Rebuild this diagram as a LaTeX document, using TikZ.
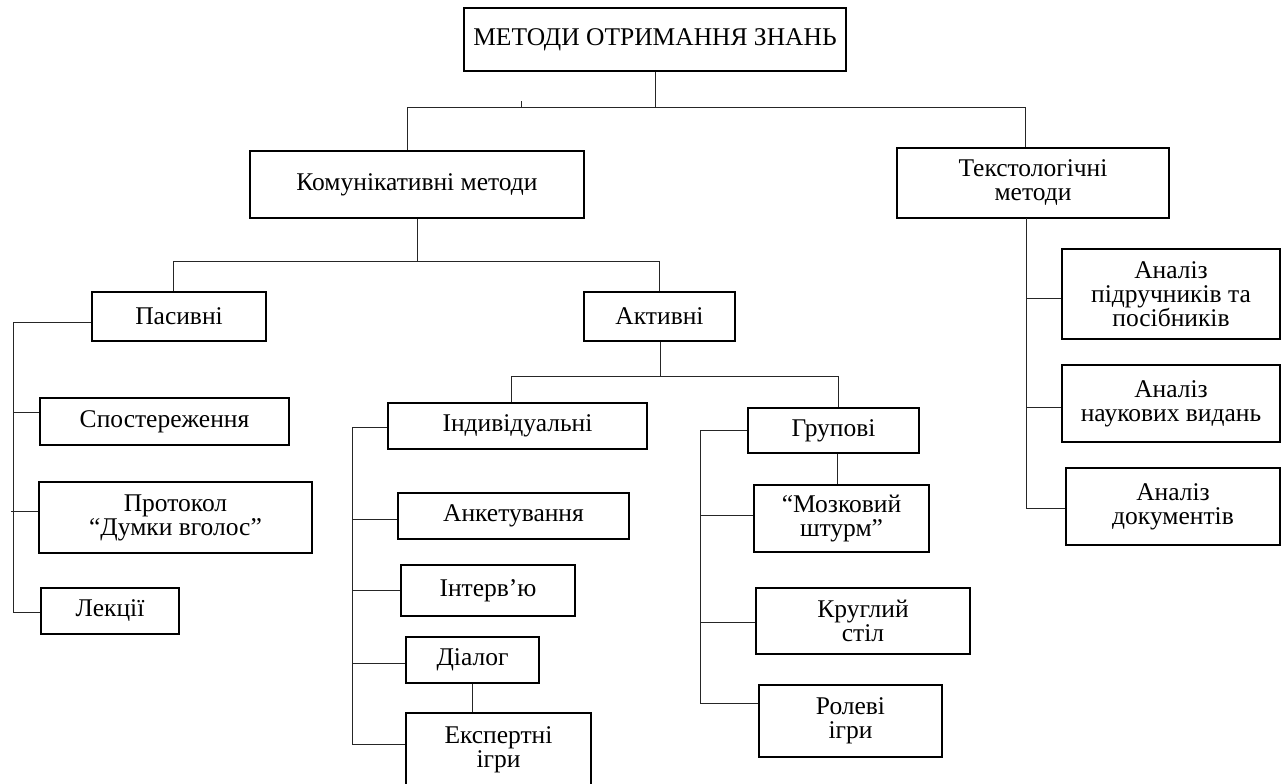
\documentclass[tikz,border=0pt]{standalone}
\usepackage{fontspec}
\setmainfont{Liberation Serif}
\begin{document}
\begin{tikzpicture}[x=1pt,y=-1pt,
  box/.style={draw=black, line width=1.1pt, inner sep=0pt, align=center,
    font=\fontsize{25.5}{24}\selectfont},
  conn/.style={draw=black!85, line width=1pt}]
\useasboundingbox (0,0) rectangle (1282,784);
% boxes
\node[box, minimum width=382, minimum height=63] (top) at (655,39.5) {МЕТОДИ ОТРИМАННЯ ЗНАНЬ};
\node[box, minimum width=334, minimum height=67] (kom) at (417,184.5) {Комунікативні методи};
\node[box, minimum width=272, minimum height=70] (tekst) at (1033,183) {Текстологічні\\методи};
\node[box, minimum width=174, minimum height=49] (pas) at (179,316.5) {Пасивні};
\node[box, minimum width=151, minimum height=49] (akt) at (659.5,316.5) {Активні};
\node[box, minimum width=249, minimum height=47] (spost) at (164.5,421.5) {Спостереження};
\node[box, minimum width=273, minimum height=71] (prot) at (175.5,517.5) {Протокол\\“Думки вголос”};
\node[box, minimum width=138, minimum height=46] (lek) at (110,611) {Лекції};
\node[box, minimum width=259, minimum height=46] (ind) at (517.5,426) {Індивідуальні};
\node[box, minimum width=231, minimum height=46] (anket) at (513.5,516) {Анкетування};
\node[box, minimum width=174, minimum height=51] (interv) at (488,590.5) {Інтерв’ю};
\node[box, minimum width=133, minimum height=46] (dial) at (472.5,660) {Діалог};
\node[box, minimum width=185, minimum height=74] (eksp) at (498.5,750) {Експертні\\ігри};
\node[box, minimum width=171, minimum height=45] (grup) at (833.5,430.5) {Групові};
\node[box, minimum width=175, minimum height=67] (mozk) at (841.5,518.5) {“Мозковий\\штурм”};
\node[box, minimum width=214, minimum height=66] (krug) at (863,621) {Круглий\\стіл};
\node[box, minimum width=183, minimum height=72] (rol) at (850.5,721) {Ролеві\\ігри};
\node[box, minimum width=218, minimum height=90] (an1) at (1171,294) {Аналіз\\підручників та\\посібників};
\node[box, minimum width=218, minimum height=77] (an2) at (1171,403.5) {Аналіз\\наукових видань};
\node[box, minimum width=214, minimum height=77] (an3) at (1173,506.5) {Аналіз\\документів};
% bus coordinates
\coordinate (b0) at (655,107);
\coordinate (b0l) at (407,107);
\coordinate (b0r) at (1025,107);
\coordinate (stub) at (521,101);
\coordinate (b1) at (417,261);
\coordinate (b1l) at (173,261);
\coordinate (b1r) at (659,261);
\coordinate (b2) at (660,376);
\coordinate (b2l) at (511,376);
\coordinate (b2r) at (838,376);
\coordinate (sp) at (13,322);
\coordinate (si) at (352,427);
\coordinate (sg) at (700,430);
\coordinate (st) at (1026,218);
% level 0
\draw[conn] (top.south) -- (b0);
\draw[conn] (b0l) -- (b0r);
\draw[conn] (b0l) -- (b0l |- kom.north);
\draw[conn] (b0r) -- (b0r |- tekst.north);
\draw[conn] (stub) -- (stub |- b0);
% communicative
\draw[conn] (kom.south -| b1) -- (b1);
\draw[conn] (b1l) -- (b1r);
\draw[conn] (b1l) -- (b1l |- pas.north);
\draw[conn] (b1r) -- (b1r |- akt.north);
% passive
\draw[conn] (sp) -- (13,612) -- (lek.west |- 0,612);
\draw[conn] (sp) -- (pas.west |- sp);
\draw[conn] (13,412) -- (spost.west |- 0,412);
\draw[conn] (11,511) -- (prot.west |- 0,511);
% active
\draw[conn] (akt.south -| b2) -- (b2);
\draw[conn] (b2l) -- (b2r);
\draw[conn] (b2l) -- (b2l |- ind.north);
\draw[conn] (b2r) -- (b2r |- grup.north);
% individual
\draw[conn] (si) -- (352,744) -- (eksp.west |- 0,744);
\draw[conn] (si) -- (ind.west |- si);
\draw[conn] (352,519) -- (anket.west |- 0,519);
\draw[conn] (352,590) -- (interv.west |- 0,590);
\draw[conn] (352,663) -- (dial.west |- 0,663);
\draw[conn] (dial.south -| 472,0) -- (eksp.north -| 472,0);
% group
\draw[conn] (sg) -- (700,703) -- (rol.west |- 0,703);
\draw[conn] (sg) -- (grup.west |- sg);
\draw[conn] (700,515) -- (mozk.west |- 0,515);
\draw[conn] (700,622) -- (krug.west |- 0,622);
\draw[conn] (grup.south -| 837,0) -- (mozk.north -| 837,0);
% textological
\draw[conn] (st) -- (1026,508) -- (an3.west |- 0,508);
\draw[conn] (1026,298) -- (an1.west |- 0,298);
\draw[conn] (1026,407) -- (an2.west |- 0,407);
\end{tikzpicture}
\end{document}
